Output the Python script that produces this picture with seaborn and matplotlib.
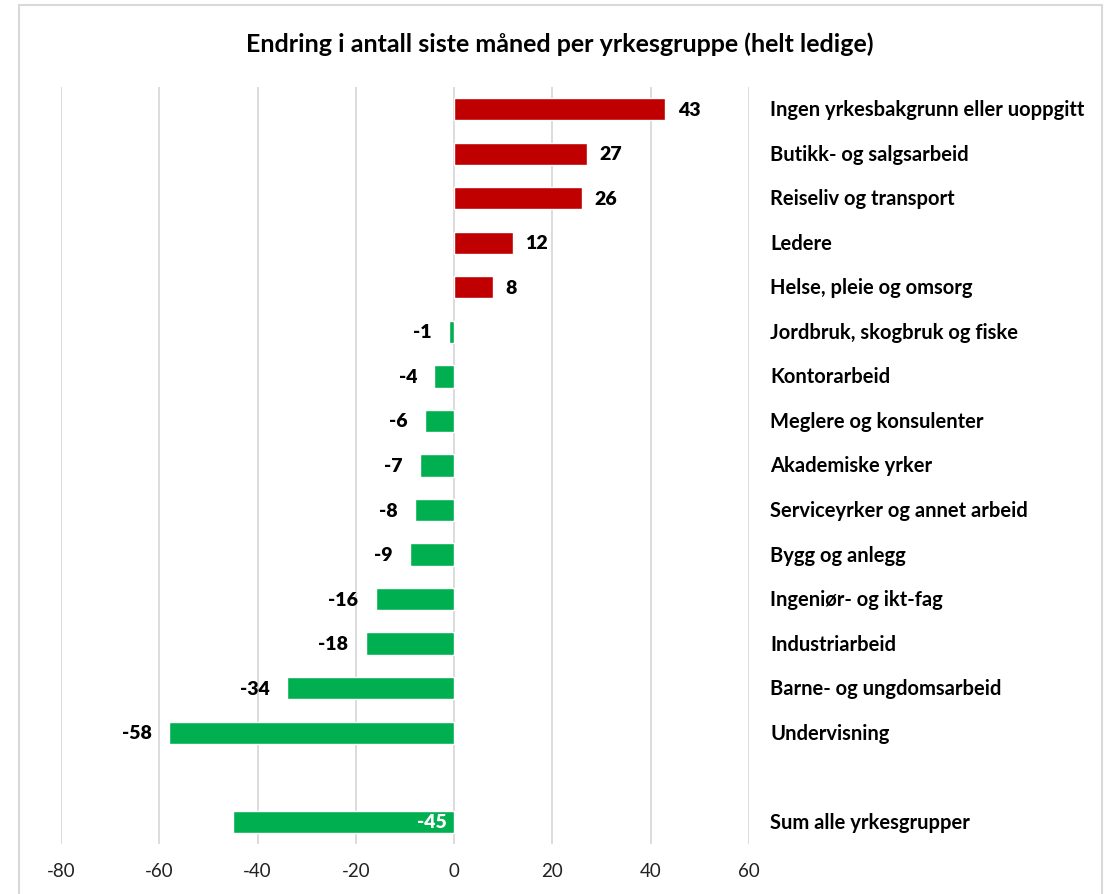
import matplotlib
matplotlib.use("Agg")
import matplotlib.pyplot as plt
import seaborn as sns
import pandas as pd
from matplotlib.patches import Rectangle

categories = [
    "Ingen yrkesbakgrunn eller uoppgitt",
    "Butikk- og salgsarbeid",
    "Reiseliv og transport",
    "Ledere",
    "Helse, pleie og omsorg",
    "Jordbruk, skogbruk og fiske",
    "Kontorarbeid",
    "Meglere og konsulenter",
    "Akademiske yrker",
    "Serviceyrker og annet arbeid",
    "Bygg og anlegg",
    "Ingeniør- og ikt-fag",
    "Industriarbeid",
    "Barne- og ungdomsarbeid",
    "Undervisning",
    "Sum alle yrkesgrupper",
]
values = [43, 27, 26, 12, 8, -1, -4, -6, -7, -8, -9, -16, -18, -34, -58, -45]
xticks = [-80, -60, -40, -20, 0, 20, 40, 60]
title = "Endring i antall siste måned per yrkesgruppe (helt ledige)"

RED = "#C00000"
GREEN = "#00B050"

order = categories[:15] + [" "] + categories[15:]
df = pd.DataFrame({"cat": categories, "val": values})
df["sign"] = ["pos" if v > 0 else "neg" for v in values]

sns.set_theme(style="white")
plt.rcParams["font.family"] = ["Lato", "DejaVu Sans"]

fig = plt.figure(figsize=(11.09, 8.95), dpi=100)
ax = fig.add_axes([0.055, 0.0559, 0.6204, 0.8458])

sns.barplot(data=df, x="val", y="cat", order=order, hue="sign",
            palette={"pos": RED, "neg": GREEN}, orient="h", width=0.5,
            legend=False, ax=ax, saturation=1)

ax.set_xlim(-80, 60)
ax.set_ylim(16.5, -0.5)
ax.set_xticks(xticks)
ax.set_xticklabels([str(t) for t in xticks], fontsize=13.5, color="#222222")
ax.tick_params(axis="x", length=0, pad=13)
ax.set_yticks([])
ax.set_xlabel("")
ax.set_ylabel("")
for s in ax.spines.values():
    s.set_visible(False)
ax.set_axisbelow(True)
ax.xaxis.grid(True, color="#D9D9D9", linewidth=1.3)

pos = {c: i for i, c in enumerate(order)}
for c, v in zip(categories, values):
    y = pos[c]
    if c == "Sum alle yrkesgrupper":
        ax.text(-1.5, y, str(v), ha="right", va="center", color="white",
                fontsize=14, fontweight="heavy")
    elif v > 0:
        ax.text(v + 2.5, y, str(v), ha="left", va="center", color="black",
                fontsize=14, fontweight="heavy")
    else:
        ax.text(v - 3.5, y, str(v), ha="right", va="center", color="black",
                fontsize=14, fontweight="heavy")
    ax.annotate(c, xy=(1.0, y), xycoords=("axes fraction", "data"),
                xytext=(21, 0), textcoords="offset pixels",
                ha="left", va="center", fontsize=14.5, fontweight="bold",
                color="black")

fig.text(0.505, 0.951, title, ha="center", va="center", fontsize=18,
         fontweight="bold", color="black")

fig.patches.append(Rectangle((19 / 1109, -0.01), (1102 - 19) / 1109, 1 - 6 / 895 + 0.01,
                             transform=fig.transFigure, fill=False,
                             edgecolor="#D9D9D9", linewidth=1.5))

fig.savefig("out.png", dpi=100, facecolor="white")
